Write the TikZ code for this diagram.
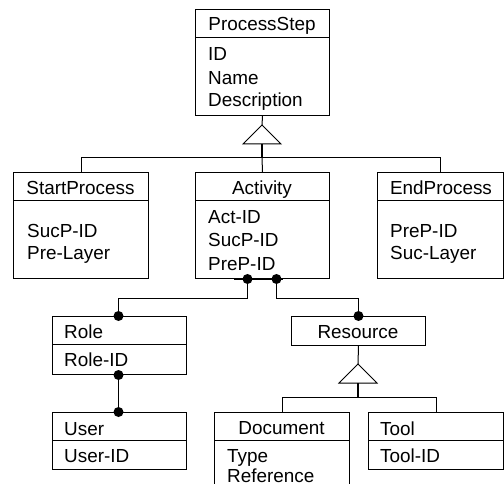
\documentclass[tikz,border=0pt]{standalone}
\usepackage{fontspec}
\setmainfont{Liberation Sans}
\usetikzlibrary{calc}
\tikzset{
  x=1pt,y=1pt,
  box/.style={draw, line width=1pt, inner sep=0pt, anchor=north west},
  txt/.style={anchor=base west, inner sep=0pt, font=\fontsize{18.9}{23}\selectfont},
  ctxt/.style={anchor=base, inner sep=0pt, font=\fontsize{18.9}{23}\selectfont},
  ln/.style={line width=1pt},
  thk/.style={line width=2pt},
  dot/.style={circle, fill=black, inner sep=0pt, minimum size=10pt},
  gen/.style={draw, line width=1pt, fill=white}
}
\begin{document}
\begin{tikzpicture}
\useasboundingbox (0,0) rectangle (504,-484);
\clip (0,0) rectangle (504,-484);
% boxes
\node[box, minimum width=134pt, minimum height=106pt] (ps) at (195,-9) {};
\node[box, minimum width=135pt, minimum height=106pt] (sp) at (13,-172) {};
\node[box, minimum width=134pt, minimum height=106pt] (act) at (195,-172) {};
\node[box, minimum width=126pt, minimum height=106pt] (ep) at (377,-172) {};
\node[box, minimum width=134pt, minimum height=58pt] (role) at (52,-316) {};
\node[box, minimum width=134pt, minimum height=57pt] (user) at (52,-412) {};
\node[box, minimum width=134pt, minimum height=29pt] (res) at (291,-316) {};
\node[box, minimum width=135pt, minimum height=88pt] (doc) at (214,-412) {};
\node[box, minimum width=135pt, minimum height=57pt] (tool) at (368,-412) {};
% dividers
\draw[ln] (ps.west |- 0,-38) -- (ps.east |- 0,-38);
\draw[ln] (sp.west |- 0,-201) -- (sp.east |- 0,-201);
\draw[ln] (act.west |- 0,-201) -- (act.east |- 0,-201);
\draw[ln] (ep.west |- 0,-201) -- (ep.east |- 0,-201);
\draw[ln] (role.west |- 0,-344) -- (role.east |- 0,-344);
\draw[ln] (user.west |- 0,-440) -- (user.east |- 0,-440);
\draw[ln] (doc.west |- 0,-440) -- (doc.east |- 0,-440);
\draw[ln] (tool.west |- 0,-440) -- (tool.east |- 0,-440);
% texts
\node[ctxt] (psh) at (262,-31) {ProcessStep};
\node[txt] (ps1) at (208,-61) {ID};
\node[txt] (ps2) at (208,-85) {Name};
\node[txt] (ps3) at (208,-107) {Description};
\node[ctxt] (sph) at (80.5,-195) {StartProcess};
\node[txt] (sp1) at (27,-237) {SucP-ID};
\node[txt] (sp2) at (27,-260) {Pre-Layer};
\node[ctxt] (acth) at (262,-195) {Activity};
\node[txt] (act1) at (208,-224) {Act-ID};
\node[txt] (act2) at (208,-247) {SucP-ID};
\node[txt] (act3) at (208,-270) {PreP-ID};
\node[ctxt] (eph) at (441,-195) {EndProcess};
\node[txt] (ep1) at (390,-237) {PreP-ID};
\node[txt] (ep2) at (390,-260) {Suc-Layer};
\node[txt] (roleh) at (64,-338) {Role};
\node[txt] (role1) at (64,-366) {Role-ID};
\node[txt] (userh) at (64,-435) {User};
\node[txt] (user1) at (64,-462) {User-ID};
\node[ctxt] (resh) at (358,-338) {Resource};
\node[ctxt] (doch) at (281.5,-434) {Document};
\node[txt] (doc1) at (227,-462) {Type};
\node[txt] (doc2) at (227,-482.5) {Reference};
\node[txt] (toolh) at (380,-435) {Tool};
\node[txt] (tool1) at (380,-462) {Tool-ID};
% generalisation ProcessStep
\coordinate (t1) at (262,-125);
\coordinate (t1b) at (262,-144);
\coordinate (b1) at (262,-158);
\draw[ln] (ps.south) -- (t1);
\draw[gen] (t1) -- (243,-144) -- (281,-144) -- cycle;
\draw[thk] (t1b) -- (b1);
\draw[ln] (sp.north) -- (sp.north |- b1) -- (ep.north |- b1) -- (ep.north);
\draw[ln] (b1) -- (act.north);
% generalisation Resource
\coordinate (t2) at (358,-364);
\coordinate (t2b) at (358,-383);
\coordinate (b2) at (358,-397);
\draw[ln] (res.south) -- (t2);
\draw[gen] (t2) -- (339,-383) -- (377,-383) -- cycle;
\draw[thk] (t2b) -- (b2);
\draw[ln] (doc.north) -- (doc.north |- b2) -- (tool.north |- b2) -- (tool.north);
% associations
\coordinate (a1) at ($(act.south)+(-15,0)$);
\coordinate (a2) at ($(act.south)+(14,0)$);
\draw[thk] ($(act.south)+(-29,0)$) -- ($(act.south)+(20,0)$);
\coordinate (rt) at ($(role.north)+(-1,0)$);
\coordinate (rb) at ($(role.south)+(-1,0)$);
\coordinate (ut) at ($(user.north)+(-1,0)$);
\draw[ln] (a1) -- ++(0,-19) -| (rt);
\draw[ln] (a2) -- ++(0,-19) -| (res.north);
\draw[ln] (rb) -- (ut);
\node[dot] (d1) at (a1) {};
\node[dot] (d2) at (a2) {};
\node[dot] (d3) at (rt) {};
\node[dot] (d4) at (res.north) {};
\node[dot] (d5) at (rb) {};
\node[dot] (d6) at (ut) {};
\end{tikzpicture}
\end{document}
